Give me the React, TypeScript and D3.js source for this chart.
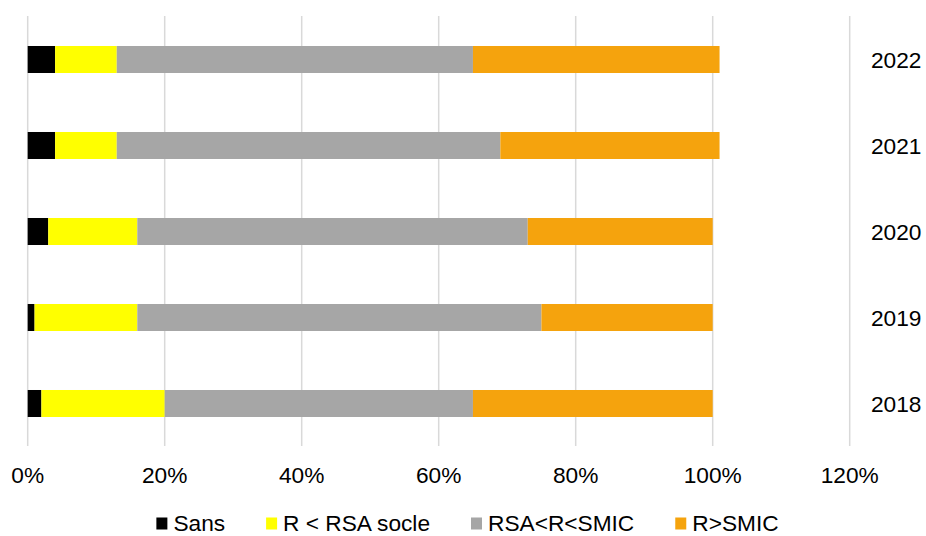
import { useEffect, useRef } from "react";
import * as d3 from "d3";

const years = ["2022", "2021", "2020", "2019", "2018"];
const seriesNames = ["Sans", "R < RSA socle", "RSA<R<SMIC", "R>SMIC"];
const seriesColors = ["#000000", "#FFFF00", "#A6A6A6", "#F5A30D"];
// percentages per year, same order as years
const sans = [4, 4, 3, 1, 2];
const sousRsa = [9, 9, 13, 15, 18];
const rsaSmic = [52, 56, 57, 59, 45];
const surSmic = [36, 32, 27, 25, 35];
const xTicks = [0, 20, 40, 60, 80, 100, 120];

const W = 926;
const H = 536;
const FONT = "'Liberation Sans', Arial, sans-serif";

const App = () => {
  const ref = useRef<SVGSVGElement>(null);

  useEffect(() => {
    if (!ref.current) return;
    const svg = d3.select(ref.current);
    svg.selectAll("*").remove();

    const x = d3.scaleLinear().domain([0, 120]).range([27.7, 849.7]);
    const y = d3
      .scaleBand()
      .domain(years)
      .range([16.5, 446.5])
      .paddingInner(0.686)
      .paddingOuter(0.343);

    // gridlines
    svg
      .append("g")
      .selectAll("line")
      .data(xTicks)
      .enter()
      .append("line")
      .attr("x1", (d) => x(d))
      .attr("x2", (d) => x(d))
      .attr("y1", 16)
      .attr("y2", 446)
      .attr("stroke", "#D9D9D9")
      .attr("stroke-width", 1.5);

    // stacked bars
    const rows = years.map((yr, i) => ({
      year: yr,
      values: [sans[i], sousRsa[i], rsaSmic[i], surSmic[i]],
    }));
    const segs = rows.flatMap((r) => {
      let acc = 0;
      return r.values.map((v, k) => {
        const s = { year: r.year, x0: acc, x1: acc + v, k };
        acc += v;
        return s;
      });
    });
    svg
      .append("g")
      .selectAll("rect")
      .data(segs)
      .enter()
      .append("rect")
      .attr("x", (d) => x(d.x0))
      .attr("width", (d) => x(d.x1) - x(d.x0))
      .attr("y", (d) => y(d.year) ?? 0)
      .attr("height", y.bandwidth())
      .attr("fill", (d) => seriesColors[d.k]);

    // x tick labels
    svg
      .append("g")
      .selectAll("text")
      .data(xTicks)
      .enter()
      .append("text")
      .attr("x", (d) => x(d))
      .attr("y", 483)
      .attr("text-anchor", "middle")
      .attr("font-family", FONT)
      .attr("font-size", "22.7px")
      .attr("fill", "#000")
      .text((d) => `${d}%`);

    // year labels on the right
    svg
      .append("g")
      .selectAll("text")
      .data(years)
      .enter()
      .append("text")
      .attr("x", 871)
      .attr("y", (d) => (y(d) ?? 0) + y.bandwidth() / 2)
      .attr("dy", "0.36em")
      .attr("font-family", FONT)
      .attr("font-size", "22.7px")
      .attr("fill", "#000")
      .text((d) => d);

    // legend, laid out from measured text widths
    const legend = svg.append("g");
    const items = legend
      .selectAll("g")
      .data(seriesNames)
      .enter()
      .append("g");
    items
      .append("rect")
      .attr("width", 11)
      .attr("height", 12)
      .attr("y", 517.5)
      .attr("fill", (_, i) => seriesColors[i]);
    const labels = items
      .append("text")
      .attr("x", 17)
      .attr("y", 531)
      .attr("font-family", FONT)
      .attr("font-size", "22.7px")
      .attr("fill", "#000")
      .text((d) => d);
    const widths = labels.nodes().map((n) => (n as SVGTextElement).getComputedTextLength());
    const gap = 41;
    const total = d3.sum(widths, (w) => w + 17) + gap * (widths.length - 1);
    let cx = 467.5 - total / 2;
    items.attr("transform", (_, i) => {
      const t = `translate(${cx},0)`;
      cx += widths[i] + 17 + gap;
      return t;
    });
  }, []);

  return (
    <svg
      ref={ref}
      width={W}
      height={H}
      style={{ position: "absolute", left: 0, top: 0, background: "#fff" }}
    />
  );
};

export default App;
